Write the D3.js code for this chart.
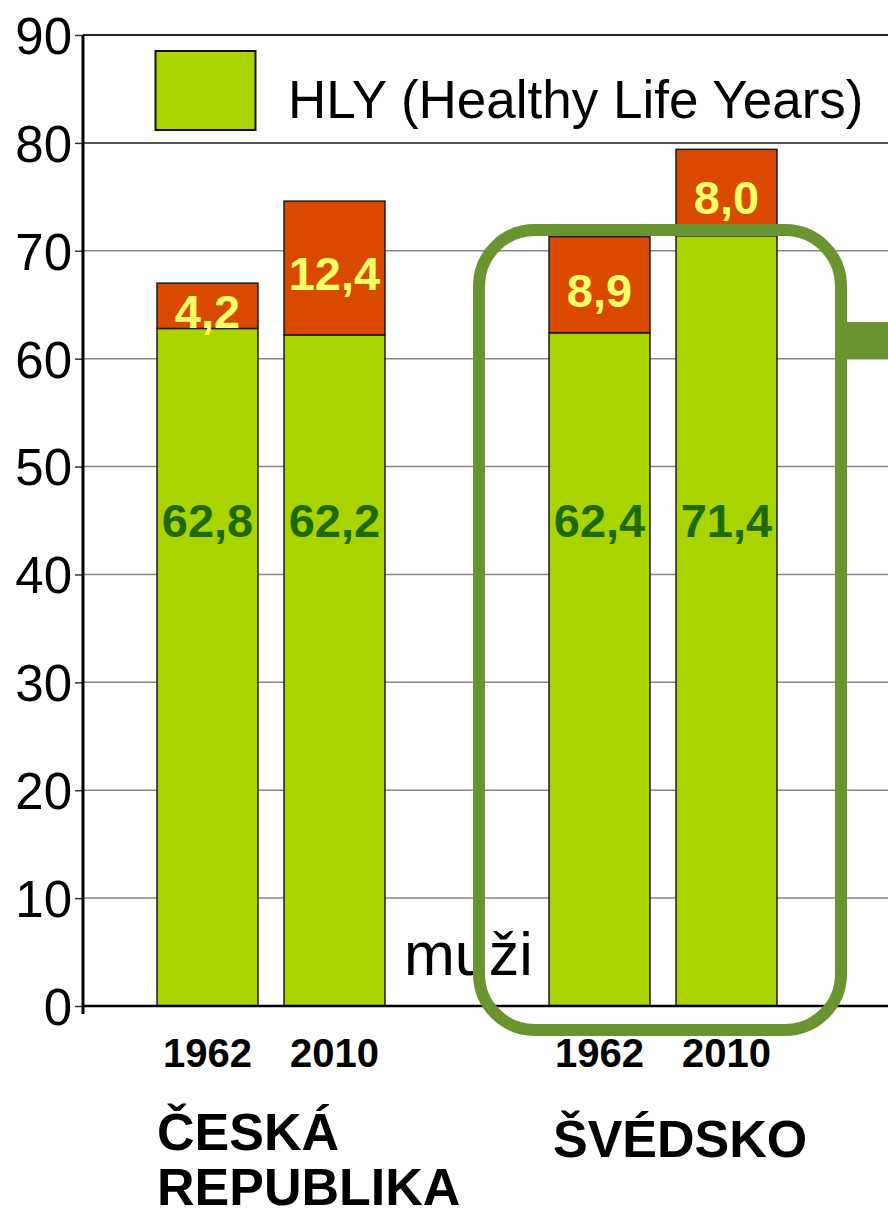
<!DOCTYPE html>
<html><head><meta charset="utf-8">
<script src="https://cdn.jsdelivr.net/npm/d3@7"></script>
<style>html,body{margin:0;padding:0;background:#fff;}svg{display:block;font-family:"Liberation Sans",Arial,sans-serif;}</style>
</head><body>
<script>
const countries = ["ČESKÁ REPUBLIKA", "ŠVÉDSKO"];
const years = ["1962", "2010"];
const hly = [[62.8, 62.2], [62.4, 71.4]];
const rest = [[4.2, 12.4], [8.9, 8.0]];
const yTicks = [0, 10, 20, 30, 40, 50, 60, 70, 80, 90];
const legendLabel = "HLY (Healthy Life Years)";
const noteLabel = "muži";

const W = 888, H = 1217;
const svg = d3.select("body").append("svg").attr("width", W).attr("height", H);

const y = d3.scaleLinear().domain([0, 90]).range([1006, 35]);
const x0 = d3.scaleBand().domain(countries).range([75, 859]).padding(0);
const x1 = d3.scaleBand().domain(years).range([0, x0.bandwidth()]).paddingInner(0.205).paddingOuter(0.646);

const axisX = 83, right = 888;

// gridlines
svg.append("g").selectAll("line").data(yTicks.filter(t => t > 0)).join("line")
  .attr("x1", axisX).attr("x2", right).attr("y1", d => y(d)).attr("y2", d => y(d))
  .attr("stroke", d => d === 90 ? "#222" : (d === 80 ? "#555" : "#888"))
  .attr("stroke-width", d => d >= 80 ? 2 : 1.5);

// y axis
const yAxis = d3.axisLeft(y).tickValues(yTicks).tickSize(8).tickPadding(6).tickFormat(d3.format("d"));
const gy = svg.append("g").attr("transform", `translate(${axisX},0)`).call(yAxis);
gy.select(".domain").remove();
gy.attr("font-size", null).attr("font-family", null);
gy.selectAll(".tick line").attr("stroke", "#333").attr("stroke-width", 1.5);
gy.selectAll(".tick text").attr("font-size", 51).attr("fill", "#000").attr("dy", "0.36em").attr("x", -11);

// bars
const rows = [];
countries.forEach((c, i) => years.forEach((yr, j) => rows.push({c, yr, h: hly[i][j], r: rest[i][j]})));
const gBars = svg.append("g");
rows.forEach(d => {
  const bx = x0(d.c) + x1(d.yr), bw = x1.bandwidth();
  gBars.append("rect").attr("x", bx).attr("y", y(d.h)).attr("width", bw).attr("height", y(0) - y(d.h))
    .attr("fill", "#aad400").attr("stroke", "#1a1a1a").attr("stroke-width", 1.5);
  gBars.append("rect").attr("x", bx).attr("y", y(d.h + d.r)).attr("width", bw).attr("height", y(d.h) - y(d.h + d.r))
    .attr("fill", "#d94a00").attr("stroke", "#1a1a1a").attr("stroke-width", 1.5);
  gBars.append("text").attr("x", bx + bw / 2).attr("y", y(45)).attr("dy", "0.36em").attr("text-anchor", "middle")
    .attr("font-size", 47).attr("font-weight", "bold").attr("fill", "#1c6a00").text(d3.format(".1f")(d.h).replace(".", ","));
  const mid = (y(d.h) + y(d.h + d.r)) / 2;
  gBars.append("text").attr("x", bx + bw / 2).attr("y", mid + 5).attr("dy", "0.36em").attr("text-anchor", "middle")
    .attr("font-size", 47).attr("font-weight", "bold").attr("fill", "#ffff66").text(d3.format(".1f")(d.r).replace(".", ","));
  svg.append("text").attr("x", bx + bw / 2).attr("y", 1067).attr("text-anchor", "middle")
    .attr("font-size", 40).attr("font-weight", "bold").attr("fill", "#000").text(d.yr);
});

// axis lines
svg.append("line").attr("x1", axisX).attr("x2", axisX).attr("y1", y(90)).attr("y2", y(0) + 8).attr("stroke", "#000").attr("stroke-width", 3);
svg.append("line").attr("x1", axisX).attr("x2", right).attr("y1", y(0)).attr("y2", y(0)).attr("stroke", "#000").attr("stroke-width", 2.5);

// legend
svg.append("rect").attr("x", 155.5).attr("y", 51).attr("width", 100).attr("height", 79)
  .attr("fill", "#aad400").attr("stroke", "#111").attr("stroke-width", 2);
svg.append("text").attr("x", 288).attr("y", 118).attr("font-size", 53).attr("fill", "#000").text(legendLabel);

// note
svg.append("text").attr("x", 404).attr("y", 975).attr("font-size", 61).attr("fill", "#000").text(noteLabel);

// highlight frame
svg.append("rect").attr("x", 479).attr("y", 230).attr("width", 362).attr("height", 800).attr("rx", 56).attr("ry", 56)
  .attr("fill", "none").attr("stroke", "#6a9430").attr("stroke-width", 12);
svg.append("rect").attr("x", 841).attr("y", 322).attr("width", 47).attr("height", 37).attr("fill", "#6a9430");

// country labels
svg.append("text").attr("x", 157).attr("y", 1150).attr("font-size", 52).attr("font-weight", "bold").text("ČESKÁ");
svg.append("text").attr("x", 157).attr("y", 1205).attr("font-size", 52).attr("font-weight", "bold").text("REPUBLIKA");
svg.append("text").attr("x", 553).attr("y", 1157).attr("font-size", 52).attr("font-weight", "bold").text("ŠVÉDSKO");
</script>
</body></html>
